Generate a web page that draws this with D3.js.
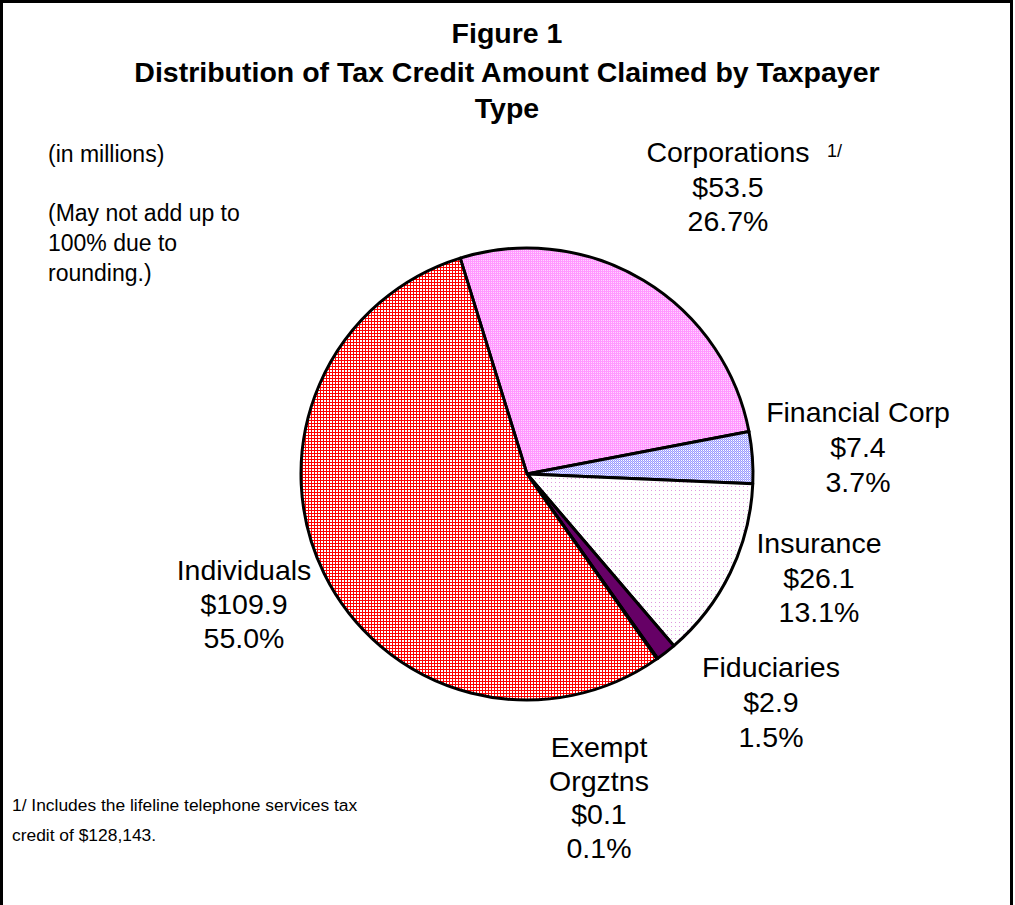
<!DOCTYPE html>
<html>
<head>
<meta charset="utf-8">
<script src="https://cdn.jsdelivr.net/npm/d3@7"></script>
<style>
  body { margin: 0; background: #fff; }
  text { font-family: "Liberation Sans", Arial, sans-serif; }
</style>
</head>
<body>
<div id="chart"></div>
<script>
// chart values (in millions)
const categories = ['Corporations', 'Financial Corp', 'Insurance', 'Fiduciaries', 'Exempt Orgztns', 'Individuals']
const amounts = [53.5, 7.4, 26.1, 2.9, 0.1, 109.9]
const amountLabels = ['$53.5', '$7.4', '$26.1', '$2.9', '$0.1', '$109.9']
const percentLabels = ['26.7%', '3.7%', '13.1%', '1.5%', '0.1%', '55.0%']

const width = 1015,
  height = 905
const cx = 527, cy = 474, radius = 226

let svg = d3.select('#chart')
  .append('svg')
  .attr('width', width)
  .attr('height', height)

// fill patterns
let defs = svg.append('defs')

let p = defs.append('pattern').attr('id', 'pIndiv').attr('width', 3).attr('height', 3).attr('patternUnits', 'userSpaceOnUse')
p.append('rect').attr('width', 3).attr('height', 3).attr('fill', '#fff')
p.append('rect').attr('width', 3).attr('height', 1).attr('fill', '#ff0000')
p.append('rect').attr('width', 1).attr('height', 3).attr('fill', '#ff0000')

p = defs.append('pattern').attr('id', 'pCorp').attr('width', 2).attr('height', 2).attr('patternUnits', 'userSpaceOnUse')
p.append('rect').attr('width', 2).attr('height', 2).attr('fill', '#ff99ff')
p.append('rect').attr('width', 1).attr('height', 1).attr('fill', '#ffd6ff')

p = defs.append('pattern').attr('id', 'pFin').attr('width', 2).attr('height', 2).attr('patternUnits', 'userSpaceOnUse')
p.append('rect').attr('width', 2).attr('height', 2).attr('fill', '#9999ff')
p.append('rect').attr('width', 1).attr('height', 1).attr('fill', '#ffffff')
p.append('rect').attr('x', 1).attr('y', 1).attr('width', 1).attr('height', 1).attr('fill', '#ccccff')

p = defs.append('pattern').attr('id', 'pIns').attr('width', 4).attr('height', 4).attr('patternUnits', 'userSpaceOnUse')
p.append('rect').attr('width', 4).attr('height', 4).attr('fill', '#fff')
p.append('rect').attr('width', 1).attr('height', 1).attr('fill', '#dd99dd')

const fills = ['url(#pCorp)', 'url(#pFin)', 'url(#pIns)', '#660066', '#660066', 'url(#pIndiv)']

// frame
svg.append('rect')
  .attr('x', 1.5).attr('y', 1.5)
  .attr('width', 1010).attr('height', 960)
  .attr('fill', 'none')
  .attr('stroke', '#000')
  .attr('stroke-width', 3)

// title
const titleLines = ['Figure 1', 'Distribution of Tax Credit Amount Claimed by Taxpayer', 'Type']
svg.selectAll('.title')
  .data(titleLines)
  .enter()
  .append('text')
  .attr('class', 'title')
  .attr('x', 507)
  .attr('y', (d, i) => [43, 82, 118][i])
  .attr('text-anchor', 'middle')
  .attr('font-size', 28.5)
  .attr('font-weight', 'bold')
  .text(d => d)

// pie
let pie = d3.pie().sort(null).value(d => d)
  .startAngle(-0.30).endAngle(-0.30 + 2 * Math.PI)
let arc = d3.arc().innerRadius(0).outerRadius(radius)

svg.append('g')
  .attr('transform', `translate(${cx},${cy})`)
  .selectAll('path')
  .data(pie(amounts))
  .enter()
  .append('path')
  .attr('d', arc)
  .attr('fill', (d, i) => fills[i])
  .attr('stroke', '#000')
  .attr('stroke-width', 3)
  .attr('stroke-linejoin', 'round')

// slice labels
const labelPos = [
  { x: 728, y: 162, dy: 34.5, lines: ['Corporations'] },
  { x: 858, y: 422, dy: 35, lines: ['Financial Corp'] },
  { x: 819, y: 553, dy: 34.5, lines: ['Insurance'] },
  { x: 771, y: 677, dy: 35, lines: ['Fiduciaries'] },
  { x: 599, y: 757, dy: 33.7, lines: ['Exempt', 'Orgztns'] },
  { x: 244, y: 580, dy: 34, lines: ['Individuals'] }
]
categories.forEach((c, i) => {
  let lines = labelPos[i].lines.concat([amountLabels[i], percentLabels[i]])
  lines.forEach((t, j) => {
    svg.append('text')
      .attr('x', labelPos[i].x)
      .attr('y', labelPos[i].y + j * labelPos[i].dy)
      .attr('text-anchor', 'middle')
      .attr('font-size', 28.5)
      .text(t)
  })
})

svg.append('text')
  .attr('x', 827).attr('y', 157)
  .attr('font-size', 18)
  .text('1/')

// notes
const notes = [['(in millions)', 162], ['(May not add up to', 221], ['100% due to', 251], ['rounding.)', 281]]
notes.forEach(n => {
  svg.append('text')
    .attr('x', 48).attr('y', n[1])
    .attr('font-size', 23)
    .text(n[0])
})

const foot = [['1/ Includes the lifeline telephone services tax', 811], ['credit of $128,143.', 841]]
foot.forEach(n => {
  svg.append('text')
    .attr('x', 12).attr('y', n[1])
    .attr('font-size', 17.4)
    .text(n[0])
})
</script>
</body>
</html>
